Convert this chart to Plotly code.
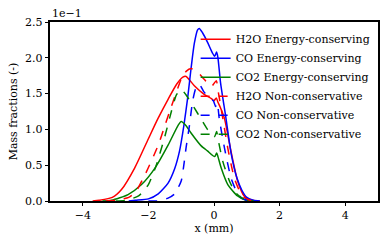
import plotly.graph_objects as go

# values in units of 1e-1 (as displayed on the y axis)
h2o_ec_x = [-3.7, -3.5, -3.1, -2.82, -2.42, -2.0, -1.71, -1.4, -1.14, -0.95, -0.85, -0.6, -0.3, -0.08, 0.0, 0.07, 0.12, 0.2, 0.32, 0.52, 0.72, 0.92, 1.18, 1.4]
h2o_ec_y = [0.0, 0.01, 0.05, 0.16, 0.46, 0.87, 1.15, 1.42, 1.63, 1.73, 1.74, 1.61, 1.49, 1.43, 1.40, 1.44, 1.38, 1.30, 1.15, 0.69, 0.28, 0.07, 0.01, 0.0]

co_ec_x = [-2.6, -2.4, -2.0, -1.7, -1.4, -1.2, -1.05, -0.92, -0.8, -0.7, -0.6, -0.5, -0.45, -0.35, -0.2, -0.05, 0.02, 0.08, 0.12, 0.2, 0.36, 0.52, 0.7, 0.85, 1.0, 1.2, 1.4]
co_ec_y = [0.0, 0.01, 0.03, 0.1, 0.25, 0.45, 0.7, 1.05, 1.45, 1.85, 2.2, 2.39, 2.41, 2.35, 2.22, 2.07, 2.02, 2.08, 2.0, 1.65, 1.17, 0.67, 0.32, 0.15, 0.05, 0.01, 0.0]

co2_ec_x = [-3.4, -3.12, -2.62, -2.21, -1.8, -1.4, -1.09, -1.0, -0.85, -0.7, -0.39, -0.2, 0.02, 0.08, 0.12, 0.22, 0.42, 0.72, 0.97, 1.2]
co2_ec_y = [0.0, 0.01, 0.09, 0.23, 0.46, 0.78, 1.06, 1.11, 1.05, 0.95, 0.77, 0.70, 0.62, 0.67, 0.62, 0.46, 0.23, 0.07, 0.01, 0.0]

h2o_nc_x = [-3.3, -3.0, -2.6, -2.4, -2.1, -1.7, -1.5, -1.3, -1.0, -0.85, -0.7, -0.5, -0.3, -0.08, 0.07, 0.12, 0.27, 0.42, 0.62, 0.8, 0.92, 1.1, 1.3]
h2o_nc_y = [0.0, 0.01, 0.05, 0.12, 0.37, 0.78, 1.05, 1.32, 1.70, 1.81, 1.85, 1.80, 1.70, 1.60, 1.68, 1.55, 1.15, 0.74, 0.32, 0.12, 0.05, 0.01, 0.0]

co_nc_x = [-2.0, -1.75, -1.4, -1.2, -1.0, -0.92, -0.85, -0.75, -0.65, -0.55, -0.45, -0.3, -0.15, -0.02, 0.05, 0.1, 0.16, 0.32, 0.52, 0.7, 0.82, 1.0, 1.2]
co_nc_y = [0.0, 0.0, 0.04, 0.1, 0.28, 0.5, 0.75, 1.05, 1.4, 1.58, 1.63, 1.52, 1.44, 1.40, 1.32, 1.37, 1.15, 0.74, 0.32, 0.12, 0.05, 0.01, 0.0]

co2_nc_x = [-3.0, -2.7, -2.3, -2.0, -1.76, -1.5, -1.3, -1.15, -1.0, -0.85, -0.6, -0.4, -0.2, -0.05, 0.02, 0.08, 0.13, 0.27, 0.47, 0.65, 0.82, 1.0, 1.2]
co2_nc_y = [0.0, 0.01, 0.07, 0.23, 0.5, 0.9, 1.25, 1.48, 1.56, 1.48, 1.3, 1.15, 1.0, 0.92, 0.90, 0.97, 0.85, 0.55, 0.28, 0.12, 0.05, 0.01, 0.0]

x_ticks = [-4, -2, 0, 2, 4]
x_tick_labels = ["\u22124", "\u22122", "0", "2", "4"]
y_ticks = [0.0, 0.5, 1.0, 1.5, 2.0, 2.5]
y_tick_labels = ["0.0", "0.5", "1.0", "1.5", "2.0", "2.5"]

series = [
    ("H2O Energy-conserving", h2o_ec_x, h2o_ec_y, "#ff0000", "solid"),
    ("CO Energy-conserving", co_ec_x, co_ec_y, "#0000ff", "solid"),
    ("CO2 Energy-conserving", co2_ec_x, co2_ec_y, "#008000", "solid"),
    ("H2O Non-conservative", h2o_nc_x, h2o_nc_y, "#ff0000", "dash"),
    ("CO Non-conservative", co_nc_x, co_nc_y, "#0000ff", "dash"),
    ("CO2 Non-conservative", co2_nc_x, co2_nc_y, "#008000", "dash"),
]

fig = go.Figure()
for name, xs, ys, col, dash in series:
    fig.add_trace(go.Scatter(x=xs, y=ys, mode="lines", name=name,
                             line=dict(color=col, width=1.5, dash=dash, shape="spline", smoothing=0.6)))

font_family = "DejaVu Serif"
fig.update_layout(
    width=392, height=245,
    margin=dict(l=48, r=14, t=22, b=42),
    paper_bgcolor="white", plot_bgcolor="white",
    font=dict(family=font_family, size=11, color="black"),
    showlegend=True,
    legend=dict(x=0.444, y=0.985, xanchor="left", yanchor="top",
                bgcolor="rgba(0,0,0,0)", borderwidth=0,
                font=dict(family=font_family, size=11),
                itemwidth=30, tracegroupgap=0),
    xaxis=dict(range=[-5, 5], tickvals=x_ticks, ticktext=x_tick_labels,
               showgrid=False, zeroline=False, showline=True, linecolor="black",
               linewidth=1.5, mirror=True, ticks="outside", ticklen=3.5, tickwidth=1,
               tickcolor="black", tickfont=dict(size=11),
               title=dict(text="x (mm)", font=dict(family=font_family, size=11), standoff=3)),
    yaxis=dict(range=[0, 2.5], tickvals=y_ticks, ticktext=y_tick_labels,
               showgrid=False, zeroline=False, showline=True, linecolor="black",
               linewidth=1.5, mirror=True, ticks="outside", ticklen=3.5, tickwidth=1,
               tickcolor="black", tickfont=dict(size=11),
               title=dict(text="Mass fractions (-)", font=dict(family=font_family, size=11), standoff=5)),
    annotations=[dict(text="1e\u22121", xref="paper", yref="paper", x=0, y=1,
                      xanchor="left", yanchor="bottom", showarrow=False,
                      font=dict(family=font_family, size=11))],
)

fig.write_html("out.html", config={"displayModeBar": False},
               post_script="document.body.style.margin='0';document.body.style.padding='0';")
